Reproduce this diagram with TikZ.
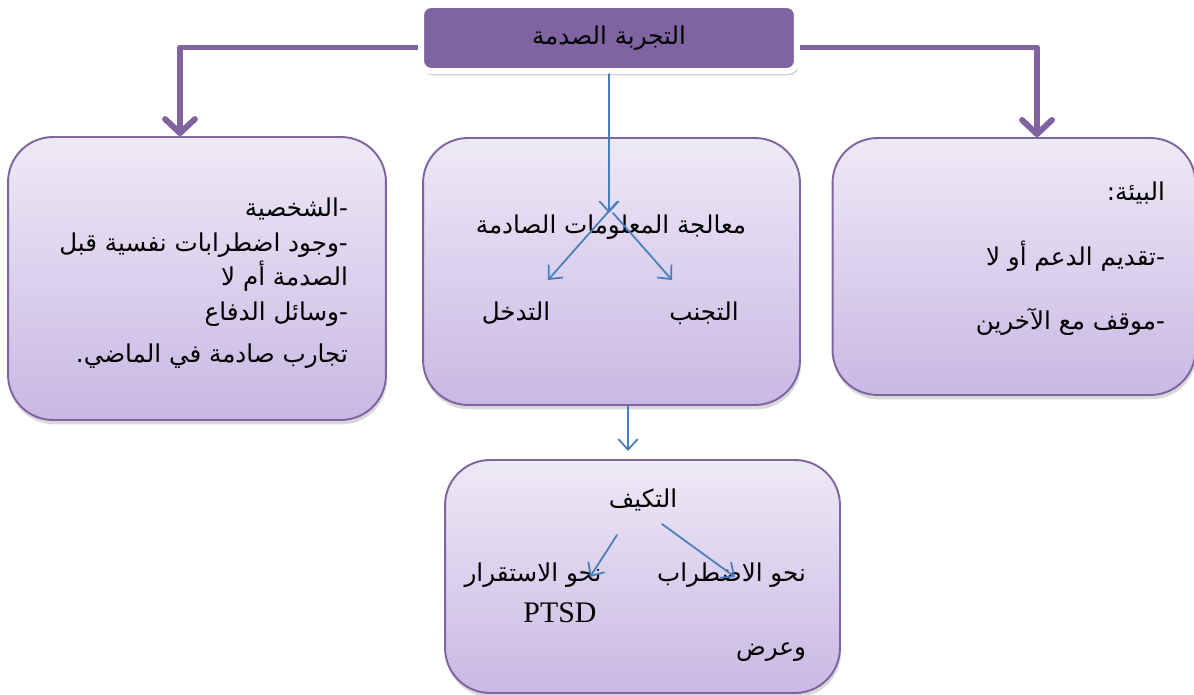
\documentclass[tikz,border=0pt]{standalone}
\usepackage{fontspec}
\setmainfont{Liberation Serif}
\newfontfamily\arabicfont[Script=Arabic]{DejaVu Sans}
\TeXXeTstate=1
\usetikzlibrary{arrows.meta,shadows,positioning}
\definecolor{boxline}{HTML}{8064A2}
\definecolor{boxtop}{HTML}{EEE9F6}
\definecolor{boxbot}{HTML}{C9B8E4}
\definecolor{flowblue}{HTML}{4A7EBB}
\newcommand{\ar}[1]{{\arabicfont\beginR #1\endR}}
\begin{document}
\begin{tikzpicture}[x=0.02cm,y=-0.02cm,line join=round,line cap=round]
    \tikzset{box/.style={draw=boxline,line width=1.1pt,rounded corners=0.9cm,top color=boxtop,bottom color=boxbot,
                 drop shadow={opacity=0.3,shadow xshift=0.6pt,shadow yshift=-2.5pt},inner sep=0pt},
             headbox/.style={draw=white,fill=boxline,line width=3.4pt,rounded corners=0.2cm,inner sep=0pt,
                 drop shadow={opacity=0.35,shadow xshift=1pt,shadow yshift=-2.5pt}},
             txt/.style={inner sep=1pt,font=\fontsize{14}{19.8}\selectfont},
             trunk/.style={draw=boxline,line width=3.4pt,-{Straight Barb[length=8pt,width=17pt,round]}},
             flow/.style={draw=flowblue,line width=1pt,-{Straight Barb[length=6pt,width=11pt]}}}
    \useasboundingbox (0,0) rectangle (1194,695);
    %% the four boxes
    \node[box,minimum width=7.56cm,minimum height=5.66cm] (personal) at (197,278.5) {};
    \node[box,minimum width=7.54cm,minimum height=5.34cm] (process) at (611.5,271.5) {};
    \node[box,minimum width=7.26cm,minimum height=5.14cm] (environ) at (1014,266.5) {};
    \node[box,minimum width=7.9cm,minimum height=4.66cm] (coping) at (642.5,576.5) {};
    %% purple trunks from the head box
    \draw[trunk] ([yshift=-0.19cm]606,38) -| ([xshift=-0.34cm]personal.north);
    \draw[trunk] ([yshift=-0.19cm]612,38) -| ([xshift=0.46cm]environ.north);
    \node[headbox,minimum width=7.52cm,minimum height=1.32cm] (trauma) at (609,38) {};
    \node[txt] (traumatxt) at (trauma) {\ar{التجربة الصدمة}};
    %% texts
    \node[txt,anchor=east,align=right] (personaltxt) at (350,283) {\ar{-الشخصية}\\ \ar{-وجود اضطرابات نفسية قبل}\\ \ar{الصدمة أم لا}\\ \ar{-وسائل الدفاع}\\[4pt] \ar{تجارب صادمة في الماضي.}};
    \node[txt] (proctxt) at (611,227) {\ar{معالجة المعلومات الصادمة}};
    \node[txt] (interv) at (516,313) {\ar{التدخل}};
    \node[txt] (avoid) at (704,313) {\ar{التجنب}};
    \node[txt,anchor=east,align=right] (environtxt) at (1167,259) {\ar{البيئة:}\\[17pt] \ar{-تقديم الدعم أو لا}\\[17pt] \ar{-موقف مع الآخرين}};
    \node[txt] (copingtxt) at (643,500) {\ar{التكيف}};
    \node[txt,anchor=east] (todisorder) at (808,575) {\ar{نحو الاضطراب}};
    \node[txt] (tostable) at (533,575) {\ar{نحو الاستقرار}};
    \node[font=\fontsize{17}{20}\selectfont,inner sep=1pt] (ptsd) at (560,613) {PTSD};
    \node[txt,anchor=east] (andshow) at (808,652) {\ar{وعرض}};
    %% blue arrows
    \coordinate (procL) at (617,202);
    \coordinate (procR) at (613,213);
    \coordinate (intervtip) at (548,280);
    \coordinate (avoidtip) at (672,280);
    \coordinate (copeL) at (617,535);
    \coordinate (copeR) at (662,524);
    \coordinate (stabletip) at (590,577);
    \coordinate (disordertip) at (735,577);
    \draw[flow] (trauma.south) -- (trauma.south |- 0,213);
    \draw[flow] (procL) -- (intervtip);
    \draw[flow] (procR) -- (avoidtip);
    \draw[flow] (process.south -| 628,0) -- (628,451);
    \draw[flow] (copeL) -- (stabletip);
    \draw[flow] (copeR) -- (disordertip);
\end{tikzpicture}
\end{document}
